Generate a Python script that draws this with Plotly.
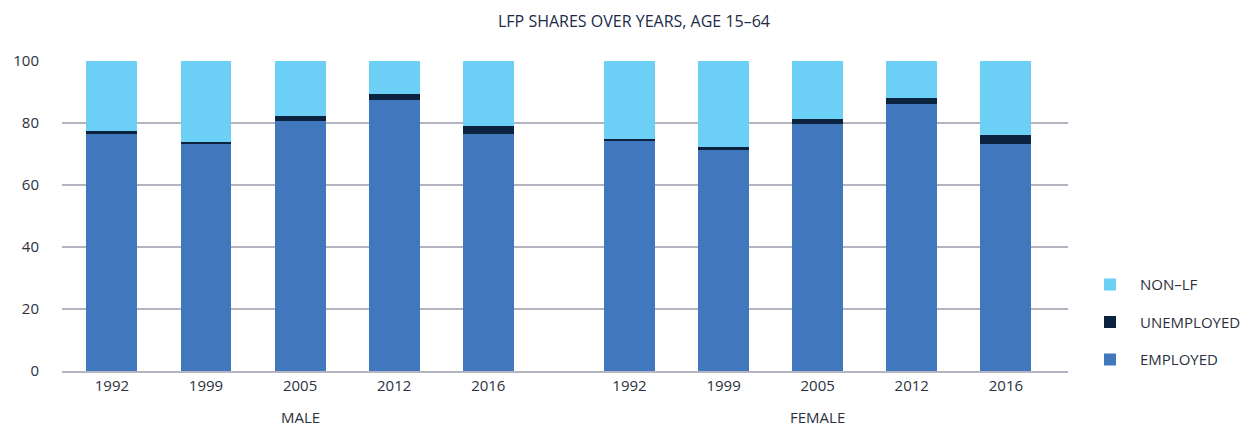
import plotly.graph_objects as go

years = ["1992", "1999", "2005", "2012", "2016"]
groups = ["MALE", "FEMALE"]
employed_male = [76.5, 73.3, 80.8, 87.3, 76.5]
unemployed_male = [1.0, 0.7, 1.6, 1.9, 2.6]
employed_female = [74.2, 71.4, 79.8, 86.0, 73.3]
unemployed_female = [0.7, 0.9, 1.6, 2.2, 2.9]
y_ticks = [0, 20, 40, 60, 80, 100]

employed = employed_male + employed_female
unemployed = unemployed_male + unemployed_female
non_lf = [round(100 - e - u, 2) for e, u in zip(employed, unemployed)]

n = len(years)
gap = 1.5
xpos = list(range(n)) + [n - 1 + gap + i for i in range(n)]
labels = years + years

C_EMP = "#4077BD"
C_UNEMP = "#0C2340"
C_NON = "#6BCFF6"
TXT = "#2B3140"
FONT = "Open Sans"

fig = go.Figure()
bw = 0.54
fig.add_bar(x=xpos, y=employed, name="EMPLOYED", marker=dict(color=C_EMP, line=dict(width=0)),
            width=bw, legendgroup="a", legendrank=3)
fig.add_bar(x=xpos, y=unemployed, name="UNEMPLOYED", marker=dict(color=C_UNEMP, line=dict(width=0)),
            width=bw, legendgroup="b", legendrank=2)
fig.add_bar(x=xpos, y=non_lf, name="NON\u2013LF", marker=dict(color=C_NON, line=dict(width=0)),
            width=bw, legendgroup="c", legendrank=1)

fig.update_layout(
    barmode="stack",
    width=1247, height=418,
    margin=dict(l=54, r=187, t=53, b=55, autoexpand=False),
    paper_bgcolor="white", plot_bgcolor="white",
    font=dict(family=FONT, size=15, color=TXT),
    title=dict(text="LFP SHARES OVER YEARS, AGE 15\u201364", x=0.502, xref="container",
               y=0.969, yref="container", yanchor="middle", xanchor="center",
               font=dict(family=FONT, size=16, color="#1B2A48")),
    legend=dict(x=(1080 - 8 - 54) / 1006, xanchor="left", y=0.157, yanchor="middle",
                traceorder="grouped", tracegroupgap=15, itemwidth=50,
                font=dict(family=FONT, size=15, color=TXT), bgcolor="rgba(0,0,0,0)"),
    showlegend=True,
)
fig.update_xaxes(range=[-0.53, xpos[-1] + 0.66], tickmode="array", tickvals=xpos, ticktext=labels,
                 showgrid=False, showline=True, linecolor="#B4B4C0", linewidth=2,
                 ticks="", ticklabelstandoff=0, tickfont=dict(size=15, color=TXT), zeroline=False)
fig.update_yaxes(range=[0, 100], tickmode="array", tickvals=y_ticks, showgrid=True,
                 gridcolor="#B4B4C0", gridwidth=1.5, zeroline=False, showline=False,
                 ticks="", ticklabelstandoff=22, tickfont=dict(size=15, color=TXT))

for gi, g in enumerate(groups):
    xs = xpos[gi * n:(gi + 1) * n]
    fig.add_annotation(x=sum(xs) / len(xs), xref="x", y=-0.148, yref="paper", yanchor="middle",
                       text=g, showarrow=False, font=dict(family=FONT, size=15, color=TXT))

fig.write_html("out.html")
